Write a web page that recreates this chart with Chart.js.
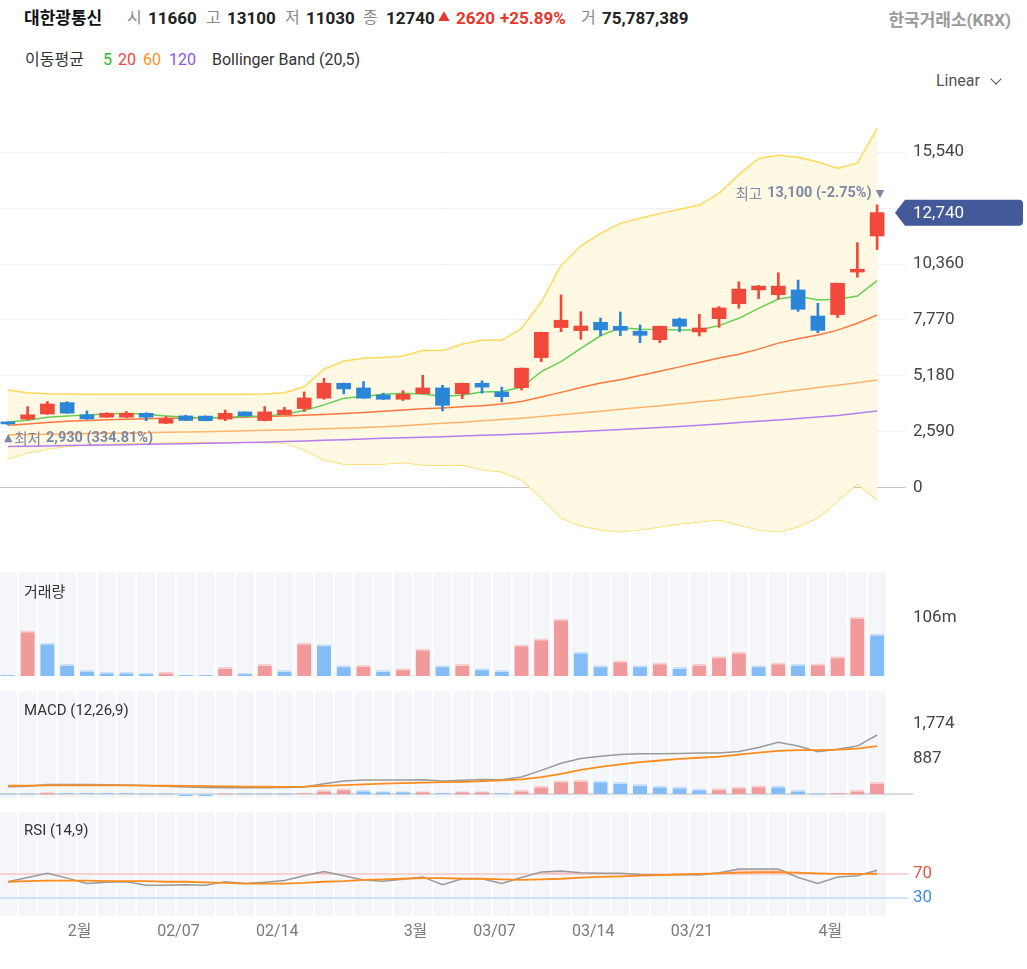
<!DOCTYPE html>
<html><head><meta charset="utf-8">
<script src="https://cdn.jsdelivr.net/npm/chart.js@4.4.1/dist/chart.umd.min.js"></script>
<style>
html,body{margin:0;padding:0;background:#fff;width:1027px;height:969px;overflow:hidden;font-family:Roboto,'Noto Sans CJK KR',sans-serif;}
.t{position:absolute;white-space:nowrap;line-height:20px;transform:translateY(-50%);}
canvas{position:absolute;left:-2px;}
.lbl{position:absolute;left:24px;font-size:15px;color:#333;z-index:5;white-space:nowrap;transform:translateY(-50%);}
</style></head><body>
<div class="t" style="left:24px;top:18px;font-size:17px;font-weight:bold;color:#111">대한광통신</div>
<div class="t" style="left:127px;top:18px;font-size:16px;color:#8a8a8a">시</div>
<div class="t" style="left:148px;top:18px;font-size:17px;font-weight:bold;color:#222">11660</div>
<div class="t" style="left:206px;top:18px;font-size:16px;color:#8a8a8a">고</div>
<div class="t" style="left:227px;top:18px;font-size:17px;font-weight:bold;color:#222">13100</div>
<div class="t" style="left:285px;top:18px;font-size:16px;color:#8a8a8a">저</div>
<div class="t" style="left:306px;top:18px;font-size:17px;font-weight:bold;color:#222">11030</div>
<div class="t" style="left:363px;top:18px;font-size:16px;color:#8a8a8a">종</div>
<div class="t" style="left:386px;top:18px;font-size:17px;font-weight:bold;color:#222">12740</div>
<div class="t" style="left:438px;top:18px;font-size:12px;color:#e8372c">▲</div>
<div class="t" style="left:456px;top:18px;font-size:17px;font-weight:bold;color:#e8372c">2620</div>
<div class="t" style="left:500px;top:18px;font-size:17px;font-weight:bold;color:#e8372c">+25.89%</div>
<div class="t" style="left:581px;top:18px;font-size:16px;color:#8a8a8a">거</div>
<div class="t" style="left:602px;top:18px;font-size:17px;font-weight:bold;color:#222">75,787,389</div>
<div class="t" style="right:16px;top:20px;font-size:17px;font-weight:bold;color:#9a9a9a">한국거래소(KRX)</div>

<div class="t" style="left:25px;top:60px;font-size:16px;color:#333">이동평균</div>
<div class="t" style="left:103px;top:60px;font-size:16px;color:#2db52d">5</div>
<div class="t" style="left:118px;top:60px;font-size:16px;color:#f0453a">20</div>
<div class="t" style="left:143px;top:60px;font-size:16px;color:#f7921e">60</div>
<div class="t" style="left:169px;top:60px;font-size:16px;color:#8a55ea">120</div>
<div class="t" style="left:212px;top:60px;font-size:16px;color:#333">Bollinger Band (20,5)</div>
<div class="t" style="left:936px;top:81px;font-size:16px;color:#555">Linear</div>
<div style="position:absolute;left:992px;top:75px;width:7px;height:7px;border-right:1.6px solid #555;border-bottom:1.6px solid #555;transform:rotate(45deg);"></div>

<div class="lbl" style="top:590px">거래량</div>
<div class="lbl" style="top:710px">MACD (12,26,9)</div>
<div class="lbl" style="top:830px">RSI (14,9)</div>

<script>
// ---------------- data ----------------
const categories = ['1','2','3','4','5','6','7','8','9','10','11','12','13','14','15','16','17','18','19','20','21','22','23','24','25','26','27','28','29','30','31','32','33','34','35','36','37','38','39','40','41','42','43','44','45'];
const xTickIndex = [3, 8, 13, 20, 24, 29, 34, 41];
const xTickText = ['2월', '02/07', '02/14', '3월', '03/07', '03/14', '03/21', '4월'];

const open  = [3050,3180,3420,3946,3380,3270,3270,3450,2990,3330,3320,3180,3515,3115,3390,3670,4150,4840,4625,4300,4100,4360,4625,4360,4840,4440,4640,6030,7420,7280,7660,7480,7250,6860,7815,7215,7830,8525,9160,8940,9160,7955,8020,9990,11660];
const high  = [3060,3760,3990,3990,3560,3480,3530,3470,3300,3360,3330,3600,3520,3760,3730,4440,5070,4850,4920,4380,4500,5210,4750,4850,4950,4660,5545,7210,8930,8150,7860,8140,7540,7490,7860,8030,8390,9540,9370,9960,9620,8540,9480,11350,13100];
const low   = [2930,3150,3400,3450,3170,3260,3250,3110,2970,3110,3100,3110,3320,3100,3380,3530,4100,4350,4140,4090,4040,4350,3560,4130,4380,3980,4530,5840,7230,6880,7040,7040,6720,6720,7230,7030,7430,8310,8760,8740,8170,7180,7880,9750,11030];
const close = [2960,3380,3880,3455,3190,3450,3450,3270,3200,3120,3110,3450,3330,3515,3600,4160,4840,4580,4150,4100,4330,4625,3820,4840,4660,4220,5540,7200,7760,7490,7310,7290,7060,7480,7480,7400,8325,9200,9340,9340,8265,7290,9470,10120,12740];

const ma5   = [3050,3130,3268,3330,3376,3422,3453,3407,3330,3268,3237,3268,3299,3330,3407,3576,3839,4148,4225,4332,4378,4347,4225,4301,4440,4455,4656,5380,5843,6460,7040,7416,7339,7324,7308,7308,7509,7848,8310,8741,8880,8695,8726,8880,9589];
const ma20  = [2900,2960,3030,3080,3120,3150,3180,3200,3220,3230,3240,3250,3270,3300,3330,3360,3390,3440,3490,3540,3600,3660,3700,3750,3800,3880,4000,4200,4420,4640,4850,5000,5200,5400,5600,5800,6010,6180,6420,6700,6900,7080,7300,7616,8000];
const ma60  = [2450,2465,2480,2495,2510,2525,2540,2555,2570,2585,2600,2620,2640,2660,2680,2700,2730,2760,2790,2830,2870,2930,2990,3040,3100,3160,3222,3300,3380,3460,3540,3638,3720,3800,3890,3980,4070,4180,4290,4410,4532,4640,4750,4870,4995];
const ma120 = [1910,1925,1940,1955,1970,1985,2000,2015,2030,2045,2060,2075,2095,2115,2140,2170,2200,2230,2260,2290,2320,2345,2370,2400,2430,2460,2495,2530,2570,2610,2650,2700,2745,2790,2840,2900,2960,3020,3080,3140,3210,3280,3350,3450,3560];
const bbUpper = [4532,4400,4350,4340,4335,4332,4332,4330,4330,4330,4330,4332,4335,4340,4400,4680,5489,5874,5997,6028,6105,6352,6352,6660,6830,6830,7385,8600,10300,11193,11779,12242,12480,12705,12900,13089,13630,14500,15250,15400,15300,15080,14800,15030,16650];
const bbLower = [1350,1620,1800,1920,2000,2040,2060,2080,2100,2110,2110,2110,2110,2100,2080,1750,1300,1100,1090,1100,1170,1060,1050,1064,833,740,370,-462,-1388,-1757,-1943,-2035,-1943,-1804,-1665,-1572,-1480,-1711,-1943,-2035,-1804,-1388,-600,185,-555];

const volume = [1800000,81800000,59400000,21300000,10400000,7300000,7300000,4900000,7300000,1800000,1800000,15800000,4900000,21300000,10400000,59400000,56900000,18700000,19200000,10400000,13300000,48500000,18700000,21300000,13300000,10400000,56400000,67300000,103100000,43100000,18700000,27300000,18700000,23600000,15800000,21300000,35100000,43100000,18700000,23600000,21300000,21800000,35100000,106000000,75787389];

const macdLine = [185,200,240,245,240,235,230,215,200,180,165,160,160,160,165,180,260,330,355,355,355,365,330,350,370,360,430,600,780,900,960,1000,1020,1020,1030,1040,1040,1080,1180,1310,1216,1073,1132,1216,1495];
const macdSignal = [210,212,218,222,222,222,220,215,210,205,200,195,190,185,180,186,205,225,245,262,275,290,300,310,325,345,370,430,510,610,690,750,810,850,890,920,950,1000,1050,1095,1110,1115,1125,1150,1216];
const macdHist = [0,0,35,25,25,25,25,0,0,-50,-50,0,0,0,0,25,100,135,100,60,60,65,25,60,65,25,100,203,338,345,338,296,245,203,177,135,140,177,211,205,100,0,25,100,296];

const rsi = [57,64,71,63,54,56,57,51,51,52,51,57,54,56,59,67,74,67,60,58,61,65,52,62,62,54,64,73,75,72,71,71,69,68,69,68,72,78,78,78,64,54,65,67,76];
const rsiSignal = [57,58,59,59,59,58,58,58,57,57,56,55,54,54,54,55,57,58,60,61,62,63,63,62,62,61,60,61,62,64,65,66,67,68,69,70,71,72,73,73,72,71,70,70,70];

const mainTicks = [0, 2590, 5180, 7770, 10360, 12950, 15540];
const volTicks = [106000000];
const macdTicks = [887, 1774];
const rsiTicks = [30, 70];

const lastPrice = 12740;
const highLabel = ['최고', '13,100 (-2.75%)'];
const lowLabel = ['최저', '2,930 (334.81%)'];

// ---------------- styling ----------------
Chart.defaults.font.family = "Roboto, 'Noto Sans CJK KR', sans-serif";
Chart.defaults.animation = false;
Chart.defaults.plugins.legend.display = false;
Chart.defaults.plugins.tooltip.enabled = false;

const UP = '#f0483b', DN = '#2b86d9';
const VUP = '#f09a9b', VDN = '#84bdf6', VUPC = '#f8cfcf', VDNC = '#c9e1fb';
const candleCol = close.map((c, i) => c >= open[i] ? UP : DN);
const volCol = volume.map((v, i) => i > 0 && v > volume[i - 1] ? VUP : VDN);
const volCap = volume.map((v, i) => i > 0 && v > volume[i - 1] ? VUPC : VDNC);
const histCol = macdHist.map((v, i) => v > (i > 0 ? macdHist[i - 1] : 0) ? VUP : VDN);
const histCap = macdHist.map((v, i) => v > (i > 0 ? macdHist[i - 1] : 0) ? VUPC : VDNC);

const W = 1029, AXW = 140;
const fitW = s => { s.width = AXW; };
const hiddenX = { type: 'category', offset: true, display: false, grid: { display: false } };
const sideGrid = { display: true, drawOnChartArea: false, drawTicks: true, tickLength: 23, tickColor: 'rgba(0,0,0,0)', color: 'rgba(0,0,0,0)' };
const lineDs = (data, color, order, width) => ({ type: 'line', data, borderColor: color, borderWidth: width || 1.5, pointRadius: 0, tension: 0, fill: false, order });

function mk(top, height, cfg) {
  const c = document.createElement('canvas');
  c.width = W; c.height = height;
  c.style.top = top + 'px'; c.style.width = W + 'px'; c.style.height = height + 'px';
  document.body.appendChild(c);
  cfg.options.responsive = false;
  cfg.options.maintainAspectRatio = false;
  cfg.options.devicePixelRatio = 1;
  return new Chart(c, cfg);
}

const stripes = {
  id: 'stripes',
  beforeDraw(chart) {
    const { ctx, chartArea: a, scales: { x } } = chart;
    const step = x.getPixelForValue(1) - x.getPixelForValue(0);
    ctx.save();
    ctx.fillStyle = '#f4f6fa';
    for (let i = 0; i < categories.length; i++) {
      const cx = x.getPixelForValue(i);
      ctx.fillRect(cx - step / 2 + 1, a.top, step - 2, a.bottom - a.top);
    }
    ctx.restore();
  }
};

// ---------------- main chart ----------------
const mainPlugin = {
  id: 'mainDeco',
  afterDraw(chart) {
    const { ctx, chartArea: a, scales: { x, y } } = chart;
    ctx.save();
    // price tag
    const py = y.getPixelForValue(lastPrice);
    const x0 = a.right + 8, x1 = x0 + 10, x2 = a.right + 136, h = 13, r = 4;
    ctx.fillStyle = '#44599a';
    ctx.beginPath();
    ctx.moveTo(x0, py);
    ctx.lineTo(x1, py - h);
    ctx.lineTo(x2 - r, py - h);
    ctx.quadraticCurveTo(x2, py - h, x2, py - h + r);
    ctx.lineTo(x2, py + h - r);
    ctx.quadraticCurveTo(x2, py + h, x2 - r, py + h);
    ctx.lineTo(x1, py + h);
    ctx.closePath();
    ctx.fill();
    ctx.fillStyle = '#fff';
    ctx.font = "17px Roboto, 'Noto Sans CJK KR'";
    ctx.textBaseline = 'middle';
    ctx.textAlign = 'left';
    ctx.fillText(lastPrice.toLocaleString('en-US'), a.right + 26, py + 1);

    // high / low labels
    const hiIdx = high.indexOf(Math.max(...high));
    const loIdx = low.indexOf(Math.min(...low));
    ctx.fillStyle = '#7b89a6';
    const hx = x.getPixelForValue(hiIdx) + 7, hy = y.getPixelForValue(high[hiIdx]) - 11;
    ctx.textAlign = 'right';
    ctx.font = "11px 'DejaVu Sans'";
    ctx.fillText('▼', hx, hy);
    let w = ctx.measureText('▼').width + 4;
    ctx.font = "bold 14.5px Roboto, 'Noto Sans CJK KR'";
    ctx.fillText(highLabel[1], hx - w, hy);
    w += ctx.measureText(highLabel[1]).width + 5;
    ctx.font = "14.5px 'Noto Sans CJK KR'";
    ctx.fillText(highLabel[0], hx - w, hy);

    const lx = x.getPixelForValue(loIdx) - 4, ly = y.getPixelForValue(low[loIdx]) + 14;
    ctx.textAlign = 'left';
    ctx.font = "11px 'DejaVu Sans'";
    ctx.fillText('▲', lx, ly);
    let lw = ctx.measureText('▲').width + 2;
    ctx.font = "14.5px 'Noto Sans CJK KR'";
    ctx.fillText(lowLabel[0], lx + lw, ly);
    lw += ctx.measureText(lowLabel[0]).width + 5;
    ctx.font = "bold 14.5px Roboto, 'Noto Sans CJK KR'";
    ctx.fillText(lowLabel[1], lx + lw, ly);
    ctx.restore();
  }
};

// chart area 98.8 .. 544.2 on the page
mk(81, 481, {
  type: 'bar',
  data: {
    labels: categories,
    datasets: [
      Object.assign(lineDs(bbUpper, '#ffd95c', 10), { fill: '+1', backgroundColor: '#fff8e2' }),
      lineDs(bbLower, '#ffd95c', 10),
      lineDs(ma120, '#b57cf0', 6),
      lineDs(ma60, '#ffb46e', 5),
      lineDs(ma20, '#ff773f', 4),
      lineDs(ma5, '#66cf55', 3),
      { type: 'bar', data: low.map((l, i) => [l, high[i]]), backgroundColor: candleCol, barThickness: 2, grouped: false, order: 2 },
      { type: 'bar', data: open.map((o, i) => [o, close[i]]), backgroundColor: candleCol, barThickness: 14, minBarLength: 2, grouped: false, order: 1 }
    ]
  },
  options: {
    layout: { padding: { top: 18, bottom: 18, left: 0, right: 0 } },
    scales: {
      x: hiddenX,
      y: {
        position: 'right', min: -2600, max: 18000,
        afterBuildTicks: s => { s.ticks = mainTicks.map(v => ({ value: v })); },
        afterFit: fitW,
        border: { display: false },
        grid: { color: c => (c.tick && c.tick.value === 0) ? '#c6c6c6' : '#eef0f4', drawTicks: true, tickLength: 19 },
        ticks: { padding: 7, color: '#444', font: { size: 17 }, callback: v => v === 12950 ? '' : v.toLocaleString('en-US') }
      }
    }
  },
  plugins: [mainPlugin]
});

// ---------------- volume (area 572..676) ----------------
mk(558, 132, {
  type: 'bar',
  data: {
    labels: categories,
    datasets: [{ data: volume, backgroundColor: volCol, borderColor: volCap, borderWidth: { top: 2, left: 0, right: 0, bottom: 0 }, borderSkipped: false, barThickness: 14 }]
  },
  options: {
    layout: { padding: { top: 14, bottom: 14 } },
    scales: {
      x: hiddenX,
      y: {
        position: 'right', min: 0, max: 188000000,
        afterBuildTicks: s => { s.ticks = volTicks.map(v => ({ value: v })); },
        afterFit: fitW,
        border: { display: false }, grid: sideGrid,
        ticks: { padding: 3, color: '#444', font: { size: 17 }, callback: v => Math.round(v / 1e6) + 'm' }
      }
    }
  },
  plugins: [stripes]
});

// ---------------- MACD (area 691..798) ----------------
const macdBase = {
  id: 'macdBase',
  beforeDatasetsDraw(chart) {
    const { ctx, chartArea: a, scales: { y } } = chart;
    const yy = y.getPixelForValue(0);
    ctx.save();
    ctx.strokeStyle = '#cfcfcf'; ctx.lineWidth = 1.5;
    ctx.beginPath(); ctx.moveTo(0, yy); ctx.lineTo(a.right + 26, yy); ctx.stroke();
    ctx.restore();
  }
};
mk(677, 135, {
  type: 'bar',
  data: {
    labels: categories,
    datasets: [
      { type: 'bar', data: macdHist, backgroundColor: histCol, borderColor: histCap, borderWidth: { top: 2, left: 0, right: 0, bottom: 0 }, borderSkipped: false, barThickness: 14, order: 3 },
      lineDs(macdLine, '#9a9a9a', 2, 1.5),
      lineDs(macdSignal, '#ff8c1c', 1, 1.8)
    ]
  },
  options: {
    layout: { padding: { top: 14, bottom: 14 } },
    scales: {
      x: hiddenX,
      y: {
        position: 'right', min: -100, max: 2610,
        afterBuildTicks: s => { s.ticks = macdTicks.map(v => ({ value: v })); },
        afterFit: fitW,
        border: { display: false }, grid: sideGrid,
        ticks: { padding: 3, color: '#444', font: { size: 17 }, callback: v => v.toLocaleString('en-US') }
      }
    }
  },
  plugins: [stripes, macdBase]
});

// ---------------- RSI (area 812..916) ----------------
const rsiLines = {
  id: 'rsiLines',
  beforeDatasetsDraw(chart) {
    const { ctx, chartArea: a, scales: { y } } = chart;
    ctx.save();
    ctx.lineWidth = 1.5;
    [[70, '#f9c6c6'], [30, '#bfdaf8']].forEach(([v, c]) => {
      const yy = y.getPixelForValue(v);
      ctx.strokeStyle = c;
      ctx.beginPath(); ctx.moveTo(0, yy); ctx.lineTo(a.right + 21, yy); ctx.stroke();
    });
    ctx.restore();
  }
};
mk(798, 146, {
  type: 'bar',
  data: {
    labels: categories,
    datasets: [
      Object.assign(lineDs(rsi, '#9a9a9a', 2, 1.5), { fill: { target: { value: 70 }, above: 'rgba(245,150,150,0.35)', below: 'rgba(0,0,0,0)' } }),
      lineDs(rsiSignal, '#ff8c1c', 1, 1.8)
    ]
  },
  options: {
    layout: { padding: { top: 14, bottom: 0 } },
    scales: {
      x: {
        type: 'category', offset: true,
        afterFit: s => { s.height = 28; },
        grid: { display: false, drawTicks: false, tickLength: 0 }, border: { display: false },
        ticks: {
          autoSkip: false, maxRotation: 0, minRotation: 0, padding: 6, labelOffset: 12.5,
          color: '#7a7a7a', font: { size: 16 },
          callback: (v, i) => { const k = xTickIndex.indexOf(i); return k >= 0 ? xTickText[k] : ''; }
        }
      },
      y: {
        position: 'right', min: 0, max: 173,
        afterBuildTicks: s => { s.ticks = rsiTicks.map(v => ({ value: v })); },
        afterFit: fitW,
        border: { display: false }, grid: sideGrid,
        ticks: { padding: 3, font: { size: 17 }, color: c => (c.tick && c.tick.value === 70) ? '#e5534b' : '#3b8ee2', callback: v => String(v) }
      }
    }
  },
  plugins: [stripes, rsiLines]
});
</script>
</body></html>
